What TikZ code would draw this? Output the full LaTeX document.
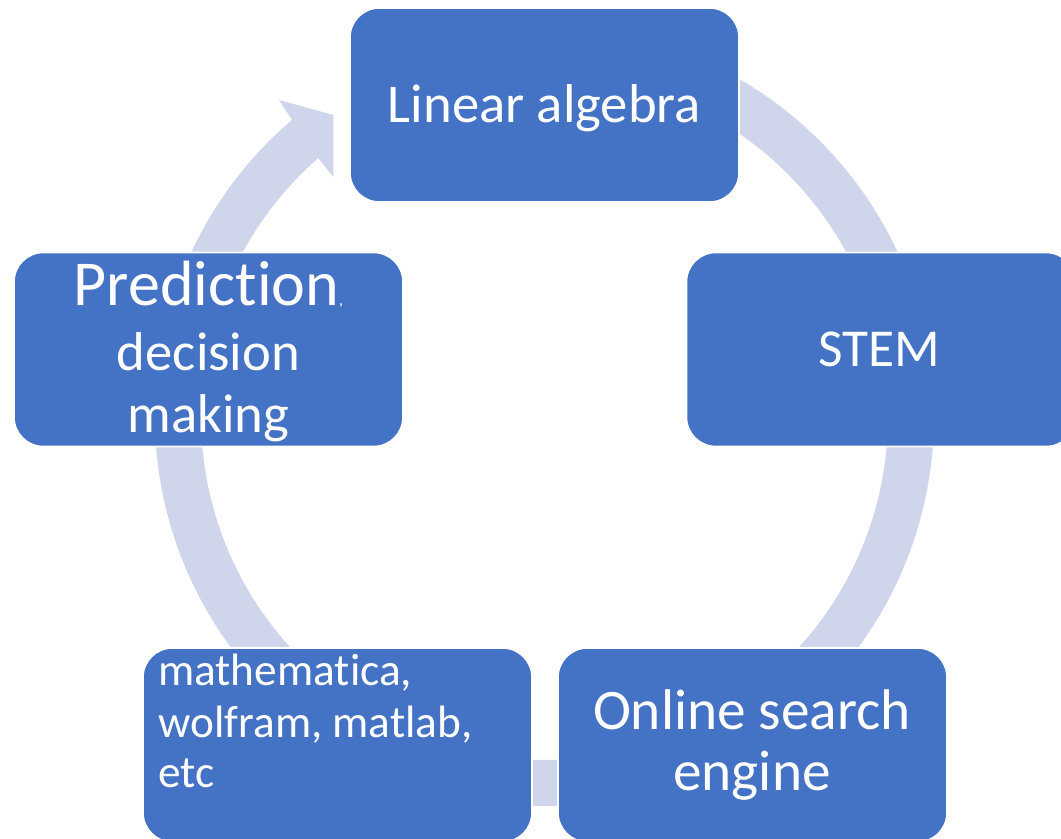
\documentclass[tikz,border=0pt]{standalone}
\usepackage{fontspec}
\setmainfont{Carlito}[Ligatures={NoCommon,NoContextual}]
\usetikzlibrary{calc}
\definecolor{boxblue}{HTML}{4472C4}
\definecolor{ringtint}{HTML}{CFD5EA}
% keep "t" and "i" as separate glyphs
\newcommand{\tsep}{t\kern0pt i}
\begin{document}
\begin{tikzpicture}[x=0.75pt,y=-0.75pt,
  stage/.style={draw=white, line width=1.2pt, fill=boxblue, rounded corners=22pt,
    minimum width=291.75pt, minimum height=145.5pt, inner sep=0pt, outer sep=0pt},
  txt/.style={text=white, inner sep=0pt, anchor=base},
  txtl/.style={text=white, inner sep=0pt, anchor=base west},
  big/.style={font=\fontsize{41}{49}\selectfont},
  small/.style={font=\fontsize{34}{41}\selectfont}]
\useasboundingbox (0,0) rectangle (1061,839);
\clip (0,0) rectangle (1061,839);
\coordinate (C) at (544.5,416.5);
% circular band with its arrowhead pointing into the top stage
\fill[ringtint] ($(C)+(-80:389.5)$) arc[start angle=-80, end angle=229.6, radius=389.5]
  -- (279,100) -- (333.3,115) -- (333.3,177)
  -- ($(C)+(228.8:343.5)$) arc[start angle=228.8, end angle=-80, radius=343.5] -- cycle;
% the five stages
\node[stage] (la)   at (544.5,105)   {};
\node[stage] (stem) at (881,349.5)   {};
\node[stage] (web)  at (752.5,745)   {};
\node[stage] (math) at (337.5,745)   {};
\node[stage] (pred) at (208.5,349.5) {};
% stage labels
\node[txt, big] (la-t) at (544.5,122) {Linear algebra};
\node[txt, font=\fontsize{40}{48}\selectfont] (stem-t) at (879,366) {STEM};
\node[txt, font=\fontsize{43}{52}\selectfont] (web-t1) at (752,729) {Online search};
\node[txt, font=\fontsize{43}{52}\selectfont] (web-t2) at (752,790) {engine};
\node[txtl, small] (math-t1) at (158,685) {mathema\tsep ca,};
\node[txtl, small] (math-t2) at (158,737) {wolfram, matlab,};
\node[txtl, small] (math-t3) at (158,787) {etc};
\node[txt, font=\fontsize{48}{58}\selectfont] (pred-t1) at (208.5,305)
  {Predic\tsep on{\fontsize{12}{14}\selectfont,}};
\node[txt, big] (pred-t2) at (208.5,370) {decision};
\node[txt, big] (pred-t3) at (208.5,432) {making};
\end{tikzpicture}
\end{document}
